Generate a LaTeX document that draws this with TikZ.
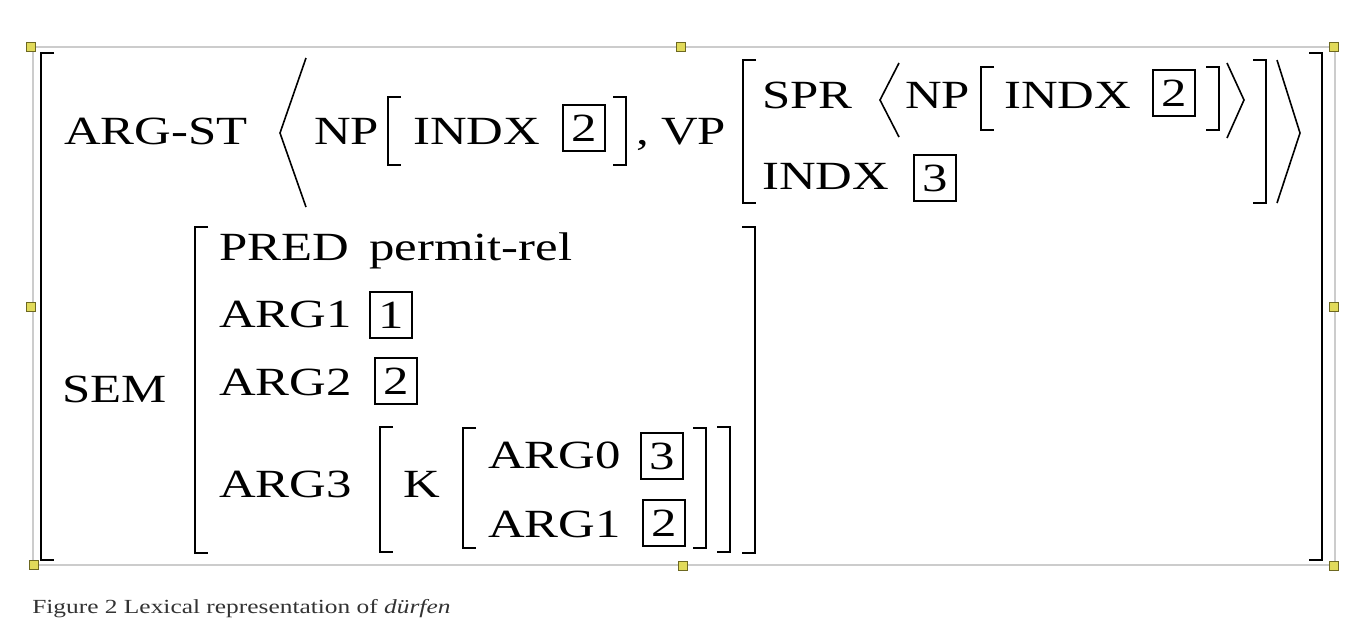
\documentclass[tikz,border=0pt]{standalone}
\usepackage{fontspec}
\setmainfont{Liberation Serif}[FakeStretch=1.27]
\newcommand\avmfont{\fontsize{30}{36}\selectfont}
\newcommand\capfont{\fontsize{15}{18}\selectfont}
% bracket macros: \lbr{x}{top}{bottom}, \rbr{x}{top}{bottom}
\newcommand\lbr[3]{\draw[brk] (#1+13,#2) -- (#1,#2) -- (#1,#3) -- (#1+13,#3);}
\newcommand\rbr[3]{\draw[brk] (#1-13,#2) -- (#1,#2) -- (#1,#3) -- (#1-13,#3);}

\begin{document}
\begin{tikzpicture}[x=0.75pt, y=-0.75pt,
  lbl/.style={anchor=base west, inner sep=0pt, font=\avmfont},
  tagbox/.style={draw, line width=1.3pt, minimum width=31pt, minimum height=35pt,
    inner sep=0pt, font=\avmfont},
  brk/.style={line width=1.6pt},
  ang/.style={line width=1.2pt},
  handle/.style={draw=olive!70!black, fill=yellow!55!olive!60, line width=0.4pt,
    minimum size=6.5pt, inner sep=0pt}]

  % ---- canvas + frame ----
  \fill[white] (0,0) rectangle (1364,637);
  \useasboundingbox (0,0) rectangle (1364,637);
  \draw[gray!40, line width=1.2pt] (33,47) rectangle (1335,565);

  % ---- outer brackets ----
  \lbr{41}{53}{560}
  \rbr{1322}{53}{560}

  % ---- ARG-ST row ----
  \node[lbl] (argst) at (64,144) {ARG-ST};
  \draw[ang] (306,58) -- (280,133) -- (306,207);
  \node[lbl] (np1) at (314,144) {NP};
  \lbr{388}{97}{165}
  \node[lbl] (indx1) at (413,144) {INDX};
  \node[tagbox] (t1) at (584,128) {2};
  \rbr{626}{97}{165}
  \node[lbl] (comma) at (636,144) {,};
  \node[lbl] (vp) at (661,144) {VP};
  \lbr{743}{60}{203}
  % SPR < NP[INDX 2] >
  \node[lbl] (spr) at (762,108) {SPR};
  \draw[ang] (899,63) -- (880,100) -- (899,137);
  \node[lbl] (np2) at (905,108) {NP};
  \lbr{981}{67}{130}
  \node[lbl] (indx2) at (1004,108) {INDX};
  \node[tagbox] (t2) at (1174,93) {2};
  \rbr{1219}{67}{130}
  \draw[ang] (1227,63) -- (1244,100) -- (1227,138);
  % INDX 3
  \node[lbl] (indx3) at (762,189) {INDX};
  \node[tagbox] (t3) at (935,178) {3};
  \rbr{1266}{60}{203}
  \draw[ang] (1277,60) -- (1300,133) -- (1277,203);

  % ---- SEM row ----
  \node[lbl] (sem) at (62,402) {SEM};
  \lbr{195}{227}{553}
  \node[lbl] (pred) at (219,260) {PRED};
  \node[lbl] (permit) at (369,260) {permit-rel};
  \node[lbl] (arga) at (219,327) {ARG1};
  \node[tagbox] (t4) at (391,315) {1};
  \node[lbl] (argb) at (219,395) {ARG2};
  \node[tagbox] (t5) at (396,381) {2};
  \node[lbl] (argc) at (219,497) {ARG3};
  \lbr{380}{427}{552}
  \node[lbl] (k) at (403,497) {K};
  \lbr{463}{428}{548}
  \node[lbl] (argz) at (488,468) {ARG0};
  \node[tagbox] (t6) at (662,456) {3};
  \node[lbl] (argy) at (488,537) {ARG1};
  \node[tagbox] (t7) at (664,523) {2};
  \rbr{706}{428}{548}
  \rbr{730}{427}{552}
  \rbr{755}{227}{553}

  % ---- selection handles ----
  \foreach \hx/\hy [count=\i] in {31/47, 681/47, 1334/47, 31/307, 1334/307,
      34/565, 683/566, 1334/566}
    \node[handle] (h\i) at (\hx,\hy) {};

  % ---- caption ----
  \node[anchor=base west, inner sep=0pt, font=\capfont, text=black!80] (cap)
    at (32,613) {Figure 2 Lexical representation of \textit{dürfen}};

\end{tikzpicture}
\end{document}
